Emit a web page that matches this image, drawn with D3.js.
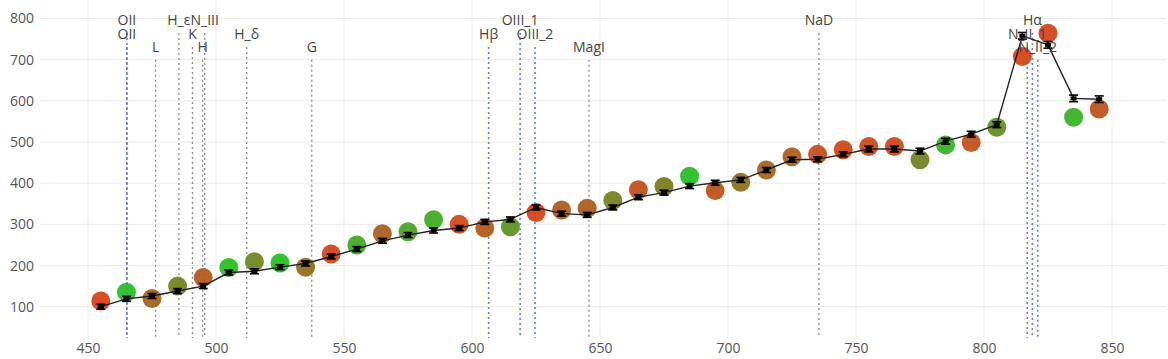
<!DOCTYPE html>
<html>
<head>
<meta charset="utf-8">
<script src="https://cdn.jsdelivr.net/npm/d3@7"></script>
<style>
  html, body { margin: 0; padding: 0; background: #fff; }
  svg { display: block; font-family: "Open Sans", sans-serif; }
</style>
</head>
<body>
<svg id="chart" width="1168" height="359"></svg>
<script>
// ---- data ----
const wavelengths = [455,465,475,485,495,505,515,525,535,545,555,565,575,585,595,605,615,625,635,645,655,665,675,685,695,705,715,725,735,745,755,765,775,785,795,805,815,825,835,845];
const observed = [114,135,120,150,171,195,209,206,196,228,250,277,282,311,300,291,294,329,335,339,358,384,392,417,382,402,432,464,470,481,489,489,457,493,499,536,708,764,560,580];
const model = [100,119,126,138,150,183,186,196,205,222,240,260,274,285,291,306,312,341,326,323,341,366,377,393,401,408,432,457,458,470,483,483,478,502,519,542,758,736,606,604];
const modelErr = [6,6,6,6,6,6,6,6,6,6,6,6,6,6,6,6,6,6,6,6,6,6,6,6,6,6,6,6,6,6,7,7,7,7,7,7,8,8,8,8];
// colour index of each observed point: 0 = red, 1 = green
const colorIndex = [0,1,0.28,0.55,0.22,1,0.58,1,0.4,0.05,0.85,0.25,0.8,0.85,0.06,0.2,0.68,0,0.25,0.25,0.55,0.1,0.5,1,0.15,0.4,0.3,0.25,0.1,0.05,0.05,0.05,0.55,0.9,0.15,0.65,0.02,0.02,0.9,0.15];

const lineNames = ["OII","OII","L","H_ε","N_III","K","H","H_δ","G","Hβ","OIII_1","OIII_2","MagI","NaD","N_II_1","Hα","N_II_2"];
const lineWaves = [465.2,465.2,476.4,485.5,495.6,490.8,494.8,512.0,537.4,606.5,618.8,624.6,645.7,735.5,816.9,818.9,821.0];
const lineTops  = [765,731,700,765,765,731,700,731,700,731,765,731,700,765,731,765,700];
const lineKinds = ["em","em","abs","abs","abs","abs","abs","abs","abs","em","em","em","abs","abs","em","em","em"];

const xTicks = [450,500,550,600,650,700,750,800,850];
const yTicks = [100,200,300,400,500,600,700,800];

// ---- layout ----
const W = 1168, H = 359;
const plot = {left: 40, right: 1166, top: 0, bottom: 338};
const svg = d3.select("#chart");

const x = d3.scaleLinear().domain([431.25, 871.1]).range([plot.left, plot.right]);
const y = d3.scaleLinear().domain([100, 800]).range([306.7, 18.5]);
const yBottomVal = y.invert(plot.bottom);

// grid
const grid = svg.append("g");
grid.selectAll("line.gx").data(xTicks).join("line")
  .attr("x1", d => x(d)).attr("x2", d => x(d))
  .attr("y1", plot.top).attr("y2", plot.bottom)
  .attr("stroke", "#ebebeb").attr("stroke-width", 1);
grid.selectAll("line.gy").data(yTicks).join("line")
  .attr("x1", plot.left).attr("x2", plot.right)
  .attr("y1", d => y(d)).attr("y2", d => y(d))
  .attr("stroke", "#ebebeb").attr("stroke-width", 1);

// axes (labels only, via d3 axes)
const xAxis = d3.axisBottom(x).tickValues(xTicks).tickSize(0).tickPadding(0);
const gx = svg.append("g").attr("transform", `translate(0,${plot.bottom + 5})`).call(xAxis);
gx.select(".domain").remove();
gx.selectAll("text").attr("font-size", 14).attr("fill", "#555").attr("font-family", "Open Sans").attr("dy", "0.71em");

const yAxis = d3.axisLeft(y).tickValues(yTicks).tickSize(0).tickPadding(0);
const gy = svg.append("g").attr("transform", `translate(${plot.left - 6},0)`).call(yAxis);
gy.select(".domain").remove();
gy.selectAll("text").attr("font-size", 14).attr("fill", "#555").attr("font-family", "Open Sans");

// spectral lines
const specColor = {em: "#5b7ff2", abs: "#8a8a8a"};
const spec = svg.append("g");
spec.selectAll("line").data(lineNames.map((n, i) => ({n, w: lineWaves[i], t: lineTops[i], k: lineKinds[i]})))
  .join("line")
  .attr("x1", d => x(d.w)).attr("x2", d => x(d.w))
  .attr("y1", d => y(d.t)).attr("y2", y(yBottomVal))
  .attr("stroke", d => specColor[d.k])
  .attr("stroke-width", d => d.k === "em" ? 1.6 : 1.3)
  .attr("stroke-dasharray", "2,3");

// observed points
const colScale = d3.scaleLinear().domain([0, 0.5, 1]).range(["#d83f16", "#7a7a1c", "#25bd21"]).interpolate(d3.interpolateRgb);
svg.append("g").selectAll("circle").data(wavelengths.map((w, i) => ({w, v: observed[i], c: colorIndex[i]})))
  .join("circle")
  .attr("cx", d => x(d.w)).attr("cy", d => y(d.v)).attr("r", 9.5)
  .attr("fill", d => colScale(d.c)).attr("fill-opacity", 0.93);

// model line
const lineGen = d3.line().x((d, i) => x(wavelengths[i])).y(d => y(d));
svg.append("path").datum(model).attr("d", lineGen)
  .attr("fill", "none").attr("stroke", "#222").attr("stroke-width", 1.4);

// error bars + markers
const eb = svg.append("g").attr("stroke", "#000").attr("stroke-width", 1.6);
const mdata = wavelengths.map((w, i) => ({w, v: model[i], e: modelErr[i]}));
eb.selectAll("line.v").data(mdata).join("line")
  .attr("x1", d => x(d.w)).attr("x2", d => x(d.w))
  .attr("y1", d => y(d.v - d.e)).attr("y2", d => y(d.v + d.e));
eb.selectAll("line.t").data(mdata).join("line")
  .attr("x1", d => x(d.w) - 4.5).attr("x2", d => x(d.w) + 4.5)
  .attr("y1", d => y(d.v + d.e)).attr("y2", d => y(d.v + d.e));
eb.selectAll("line.b").data(mdata).join("line")
  .attr("x1", d => x(d.w) - 4.5).attr("x2", d => x(d.w) + 4.5)
  .attr("y1", d => y(d.v - d.e)).attr("y2", d => y(d.v - d.e));
svg.append("g").selectAll("rect").data(mdata).join("rect")
  .attr("x", d => x(d.w) - 3).attr("y", d => y(d.v) - 2)
  .attr("width", 6).attr("height", 4).attr("fill", "#000");

// spectral line labels
svg.append("g").selectAll("text").data(lineNames.map((n, i) => ({n, w: lineWaves[i], t: lineTops[i]})))
  .join("text")
  .attr("x", d => x(d.w)).attr("y", d => y(d.t) - 8)
  .attr("text-anchor", "middle").attr("font-size", 14).attr("fill", "#444")
  .attr("font-family", "Open Sans")
  .text(d => d.n);
</script>
</body>
</html>
